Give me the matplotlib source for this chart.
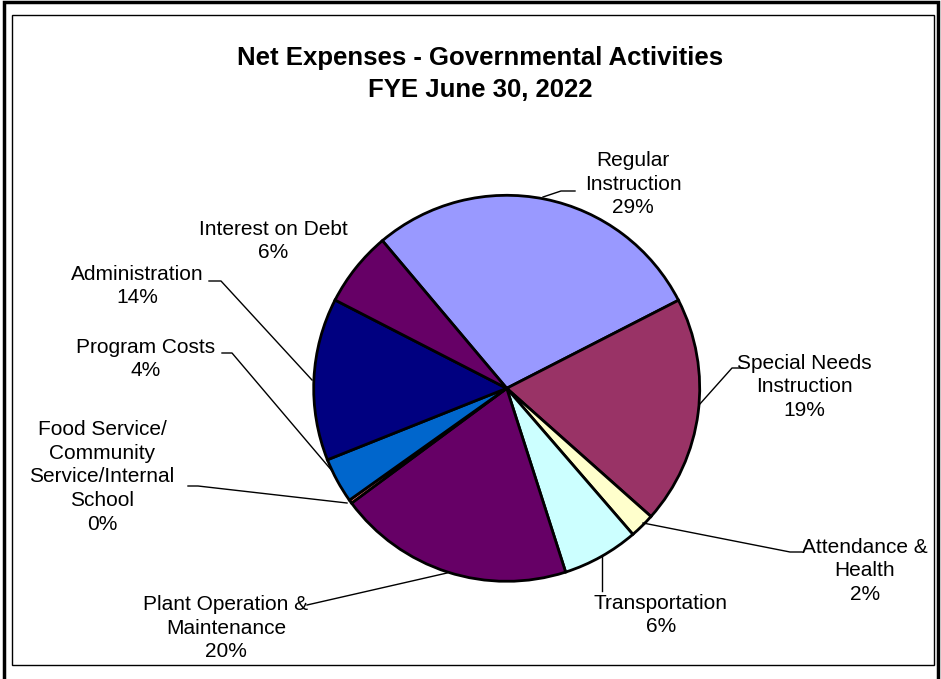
import matplotlib
matplotlib.use("Agg")
import matplotlib.pyplot as plt
from matplotlib.patches import Rectangle
from matplotlib.lines import Line2D

plt.rcParams['font.family'] = ['Liberation Sans', 'DejaVu Sans']

categories = ["Regular\nInstruction", "Special Needs\nInstruction", "Attendance &\nHealth",
              "Transportation", "Plant Operation &\nMaintenance",
              "Food Service/\nCommunity\nService/Internal\nSchool",
              "Program Costs", "Administration", "Interest on Debt"]
values = [28.6, 19.1, 2.1, 6.4, 19.8, 0.3, 3.8, 13.6, 6.3]
colors = ["#9999FF", "#993366", "#FFFFCC", "#CCFFFF", "#660066", "#FF8080",
          "#0066CC", "#000080", "#660066"]

W, H = 941, 679
fig = plt.figure(figsize=(W / 100, H / 100), dpi=100)
ax = fig.add_axes([0, 0, 1, 1])

def Y(y):
    return H - y

ax.pie(values, colors=colors, startangle=130.1, counterclock=False,
       center=(506.7, Y(388.3)), radius=193, frame=True,
       wedgeprops=dict(edgecolor='black', linewidth=2.0))
ax.set_xlim(0, W)
ax.set_ylim(0, H)
ax.set_aspect('auto')
ax.axis('off')

# frames
fig.add_artist(Rectangle((0.004, -0.01), 0.993, 1.007, transform=fig.transFigure,
                         fill=False, edgecolor='black', linewidth=2.5))
ax.add_patch(Rectangle((12, Y(665)), 922, 650, fill=False, edgecolor='black', linewidth=1.0))

total = sum(values)
pct = [f"{round(v / total * 100):.0f}%" for v in values]

# label centers (px) and leader lines (px)
label_pos = [(633, 184), (804, 387), (865, 571), (661, 615), (226, 628),
             (102, 477), (146, 359), (137, 286), (273, 241)]
leaders = [
    [(543, 197), (561, 191), (575, 191)],
    [(699, 405), (732, 368), (743, 368)],
    [(643, 523), (790, 552), (802, 552)],
    [(602, 556), (602, 591)],
    [(447, 573), (307, 605)],
    [(347, 503), (198, 486), (188, 486)],
    [(333, 472), (232, 353), (222, 353)],
    [(312, 380), (221, 281), (209, 281)],
    None,
]

for cat, p, (lx, ly), ld in zip(categories, pct, label_pos, leaders):
    if ld:
        xs = [q[0] for q in ld]
        ys = [Y(q[1]) for q in ld]
        ax.add_line(Line2D(xs, ys, color='black', linewidth=1.0))
    ax.text(lx, Y(ly), f"{cat}\n{p}", ha='center', va='center', fontsize=15,
            linespacing=1.33, color='black')

ax.text(480, Y(74), "Net Expenses - Governmental Activities\nFYE June 30, 2022",
        ha='center', va='center', fontsize=18.5, fontweight='bold', linespacing=1.38)

fig.savefig("out.png", dpi=100)
